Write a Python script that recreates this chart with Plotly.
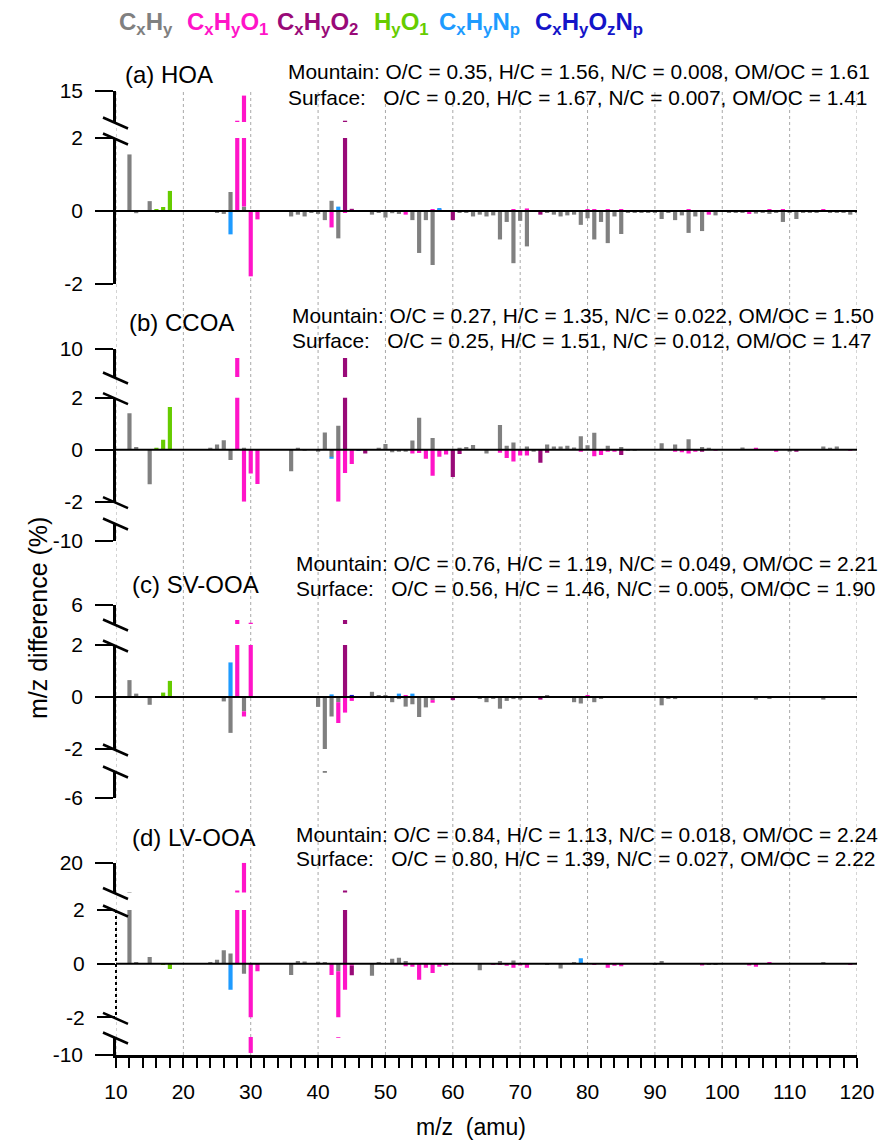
import plotly.graph_objects as go

W, H = 880, 1140
FONT = "Liberation Sans, Arial, Helvetica, sans-serif"

# ---------------- data: m/z difference (Mountain - Surface), % ----------------
# each list holds (m/z, difference) pairs for one ion family

HOA_CxHy = [(12, 1.55), (13, -0.06), (14, 0.02), (15, 0.27), (24, -0.02), (25, -0.04),
            (26, -0.08), (27, 0.52), (29, 0.12), (36, -0.15), (37, -0.10), (38, -0.15),
            (39, -0.05), (40, -0.08), (41, -0.25), (42, 0.28), (43, -0.75), (48, -0.10),
            (49, -0.05), (50, -0.18), (51, -0.06), (52, -0.08), (54, -0.25), (55, -1.15),
            (56, -0.25), (57, -1.48), (61, -0.05), (62, -0.05), (63, -0.15), (64, -0.10),
            (65, -0.15), (66, -0.12), (67, -0.78), (68, -0.30), (69, -1.43), (70, -0.27),
            (71, -0.97), (74, -0.05), (75, -0.10), (76, -0.15), (77, -0.12), (78, -0.10),
            (79, -0.38), (80, -0.20), (81, -0.78), (82, -0.30), (83, -0.88), (84, -0.15),
            (85, -0.63), (86, -0.03), (87, -0.03), (88, -0.03), (89, -0.03), (90, -0.04),
            (91, -0.22), (92, -0.05), (93, -0.25), (94, -0.12), (95, -0.60), (96, -0.15),
            (97, -0.55), (99, -0.12), (101, -0.03), (102, -0.03), (103, -0.05), (105, -0.07),
            (106, -0.03), (107, -0.08), (108, -0.03), (109, -0.30), (110, -0.04), (111, -0.22),
            (112, -0.03), (113, -0.03), (114, -0.03), (116, -0.03), (117, -0.04), (118, -0.03),
            (119, -0.10), (120, -0.03)]
HOA_CxHyO1 = [(28, 3.5), (29, 13.1), (30, -1.79), (31, -0.23), (42, -0.45), (44, -0.05),
              (53, -0.10), (57, 0.05), (58, 0.05), (69, 0.05), (71, 0.07), (80, 0.04),
              (81, 0.05), (83, 0.05), (85, 0.03), (95, 0.05), (98, -0.10), (104, -0.08),
              (107, 0.03), (109, 0.04), (115, 0.03)]
HOA_CxHyO2 = [(44, 3.5), (45, 0.06), (60, -0.25), (73, -0.10)]
HOA_HyO1 = [(16, 0.03), (17, 0.11), (18, 0.55)]
HOA_CxHyNp = [(27, -0.64), (43, 0.12), (58, 0.02)]
HOA_CxHyOzNp = [(72, -0.02)]

CCOA_CxHy = [(12, 1.40), (13, 0.10), (15, -1.33), (24, 0.05), (25, 0.20), (26, 0.36),
             (27, -0.40), (29, 0.05), (36, -0.83), (37, 0.05), (38, -0.03), (40, -0.06),
             (41, 0.66), (42, -0.28), (43, 0.92), (49, 0.05), (50, 0.22), (51, -0.10),
             (52, -0.06), (53, -0.08), (54, 0.35), (55, 1.23), (57, 0.45), (61, 0.05),
             (62, 0.10), (63, 0.18), (65, -0.15), (67, 0.95), (68, 0.15), (69, 0.28),
             (71, 0.12), (72, -0.06), (74, 0.20), (75, 0.12), (76, 0.12), (77, 0.15),
             (78, 0.08), (79, 0.52), (80, 0.17), (81, 0.65), (83, 0.15), (85, 0.10),
             (86, -0.03), (87, -0.03), (91, 0.25), (93, 0.20), (95, 0.40), (97, 0.10),
             (98, 0.05), (103, 0.08), (110, -0.05), (115, 0.12), (116, 0.07), (117, 0.12)]
CCOA_CxHyO1 = [(28, 7.75), (29, -2.0), (30, -0.92), (31, -1.32), (43, -2.0), (44, -0.90),
               (45, -0.55), (54, -0.15), (55, -0.13), (56, -0.35), (57, -1.0), (58, -0.27),
               (59, -0.18), (67, -0.12), (68, -0.32), (69, -0.45), (70, -0.22), (71, -0.22),
               (79, -0.05), (81, -0.25), (82, -0.20), (83, -0.08), (84, -0.05), (93, -0.05),
               (94, -0.10), (95, -0.15), (96, -0.05), (99, -0.03), (105, 0.05), (108, -0.05),
               (119, -0.03)]
CCOA_CxHyO2 = [(44, 7.75), (47, -0.15), (60, -1.05), (61, -0.17), (73, -0.50), (74, -0.12),
               (85, -0.20), (97, -0.07), (111, -0.05)]
CCOA_HyO1 = [(16, 0.05), (17, 0.38), (18, 1.64)]
CCOA_CxHyNp = [(42, -0.04)]
CCOA_CxHyOzNp = [(46, -0.02)]

SVOOA_CxHy = [(12, 0.65), (13, 0.13), (15, -0.30), (16, 0.02), (25, -0.03), (26, -0.17),
              (27, -1.38), (29, -0.55), (40, -0.38), (41, -3.2), (42, -0.75), (43, -0.20),
              (48, 0.20), (49, 0.05), (50, 0.05), (51, -0.20), (52, -0.08), (53, -0.37),
              (54, -0.28), (55, -0.77), (56, -0.40), (57, -0.12), (63, -0.03), (64, -0.05),
              (65, -0.20), (66, -0.05), (67, -0.45), (68, -0.15), (69, -0.08), (70, -0.10),
              (74, 0.05), (78, -0.20), (79, -0.25), (81, -0.20), (82, -0.05), (91, -0.32),
              (92, -0.05), (93, -0.08), (105, -0.10), (107, -0.05), (115, -0.10)]
SVOOA_CxHyO1 = [(28, 3.63), (29, -0.20), (30, 3.2), (43, -0.80), (44, -0.60), (45, -0.15),
                (53, 0.05), (57, -0.10), (58, 0.03), (71, 0.02), (77, 0.03), (80, 0.05),
                (83, -0.03), (104, 0.02)]
SVOOA_CxHyO2 = [(44, 3.63), (60, -0.12), (73, -0.10)]
SVOOA_HyO1 = [(17, 0.17), (18, 0.62)]
SVOOA_CxHyNp = [(27, 1.33), (42, 0.10), (43, 0.03), (52, 0.13), (54, 0.13), (79, 0.02)]
SVOOA_CxHyOzNp = [(45, 0.08)]

LVOOA_CxHy = [(12, 3.3), (13, 0.05), (15, 0.25), (24, 0.03), (25, 0.15), (26, 0.50),
              (27, 0.38), (29, -0.38), (36, -0.42), (37, 0.10), (38, 0.08), (40, 0.07),
              (41, 0.03), (43, -0.28), (48, -0.45), (49, 0.05), (51, 0.18), (52, 0.22),
              (53, 0.10), (64, -0.25), (67, 0.10), (69, 0.12), (74, -0.03), (76, -0.18),
              (78, 0.05), (90, -0.05), (91, 0.10), (98, -0.05), (99, -0.05), (115, 0.05)]
LVOOA_CxHyO1 = [(28, 4.1), (29, 20.0), (30, -9.2), (31, -0.28), (42, -0.42), (43, -3.02),
                (44, -0.97), (45, -0.08), (53, -0.10), (54, -0.12), (55, -0.60), (56, -0.15),
                (57, -0.35), (58, -0.12), (59, -0.08), (66, -0.05), (67, -0.05), (68, -0.08),
                (69, -0.15), (70, -0.07), (71, -0.15), (81, -0.05), (83, -0.15), (84, -0.08),
                (85, -0.10), (97, -0.07), (104, -0.07), (105, -0.12), (107, 0.04), (119, -0.03)]
LVOOA_CxHyO2 = [(44, 4.1), (45, -0.35)]
LVOOA_HyO1 = [(17, -0.03), (18, -0.20)]
LVOOA_CxHyNp = [(27, -0.97), (79, 0.20)]
LVOOA_CxHyOzNp = [(46, 0.01)]

FAMILIES = ["CxHy", "CxHyO1", "CxHyO2", "HyO1", "CxHyNp", "CxHyOzNp"]
COLORS = {"CxHy": "#808080", "CxHyO1": "#FF14C8", "CxHyO2": "#990A78",
          "HyO1": "#66CC00", "CxHyNp": "#1E9BFF", "CxHyOzNp": "#1414C8"}
LEGEND_LABELS = {"CxHy": "C<sub>x</sub>H<sub>y</sub>",
                 "CxHyO1": "C<sub>x</sub>H<sub>y</sub>O<sub>1</sub>",
                 "CxHyO2": "C<sub>x</sub>H<sub>y</sub>O<sub>2</sub>",
                 "HyO1": "H<sub>y</sub>O<sub>1</sub>",
                 "CxHyNp": "C<sub>x</sub>H<sub>y</sub>N<sub>p</sub>",
                 "CxHyOzNp": "C<sub>x</sub>H<sub>y</sub>O<sub>z</sub>N<sub>p</sub>"}
LEGEND_X = [117, 185, 275, 372, 437, 533]

MZ_TICKS = list(range(10, 121, 10))

# ---------------- panel layout (pixel positions) ----------------
NB = "\u00a0"
PANELS = [
    dict(label="(a) HOA", label_pos=(123, 75),
         info=["Mountain: O/C = 0.35, H/C = 1.56, N/C = 0.008, OM/OC = 1.61",
               "Surface:" + NB * 3 + "O/C = 0.20, H/C = 1.67, N/C = 0.007, OM/OC = 1.41"],
         info_pos=(286, 72, 97),
         data=dict(CxHy=HOA_CxHy, CxHyO1=HOA_CxHyO1, CxHyO2=HOA_CxHyO2, HyO1=HOA_HyO1,
                   CxHyNp=HOA_CxHyNp, CxHyOzNp=HOA_CxHyOzNp),
         segments=[((3, 15), 91, 122, [15], ["15"]),
                   ((-2, 2), 138, 284, [-2, 0, 2], ["-2", "0", "2"])],
         dotted_main=False),
    dict(label="(b) CCOA", label_pos=(127, 322),
         info=["Mountain: O/C = 0.27, H/C = 1.35, N/C = 0.022, OM/OC = 1.50",
               "Surface:" + NB * 3 + "O/C = 0.25, H/C = 1.51, N/C = 0.012, OM/OC = 1.47"],
         info_pos=(290, 315, 340),
         data=dict(CxHy=CCOA_CxHy, CxHyO1=CCOA_CxHyO1, CxHyO2=CCOA_CxHyO2, HyO1=CCOA_HyO1,
                   CxHyNp=CCOA_CxHyNp, CxHyOzNp=CCOA_CxHyOzNp),
         segments=[((3, 10), 349, 377, [10], ["10"]),
                   ((-2, 2), 397.7, 501.7, [-2, 0, 2], ["-2", "0", "2"]),
                   ((-10, -3), 523, 540.7, [-10], ["-10"])],
         dotted_main=False),
    dict(label="(c) SV-OOA", label_pos=(130, 584),
         info=["Mountain: O/C = 0.76, H/C = 1.19, N/C = 0.049, OM/OC = 2.21",
               "Surface:" + NB * 3 + "O/C = 0.56, H/C = 1.46, N/C = 0.005, OM/OC = 1.90"],
         info_pos=(294, 563, 588),
         data=dict(CxHy=SVOOA_CxHy, CxHyO1=SVOOA_CxHyO1, CxHyO2=SVOOA_CxHyO2, HyO1=SVOOA_HyO1,
                   CxHyNp=SVOOA_CxHyNp, CxHyOzNp=SVOOA_CxHyOzNp),
         segments=[((3, 6), 605, 624, [6], ["6"]),
                   ((-2, 2), 645, 749, [-2, 0, 2], ["-2", "0", "2"]),
                   ((-6, -3), 771, 798, [-6], ["-6"])],
         dotted_main=False),
    dict(label="(d) LV-OOA", label_pos=(130, 837),
         info=["Mountain: O/C = 0.84, H/C = 1.13, N/C = 0.018, OM/OC = 2.24",
               "Surface:" + NB * 3 + "O/C = 0.80, H/C = 1.39, N/C = 0.027, OM/OC = 2.22"],
         info_pos=(294, 834, 858),
         data=dict(CxHy=LVOOA_CxHy, CxHyO1=LVOOA_CxHyO1, CxHyO2=LVOOA_CxHyO2, HyO1=LVOOA_HyO1,
                   CxHyNp=LVOOA_CxHyNp, CxHyOzNp=LVOOA_CxHyOzNp),
         segments=[((3, 20), 862.7, 892.5, [20], ["20"]),
                   ((-2, 2), 910, 1017.3, [-2, 0, 2], ["-2", "0", "2"]),
                   ((-10, -3), 1037, 1055, [-10], ["-10"])],
         dotted_main=True),
]

X_LEFT, X_RIGHT = 116, 857
AXIS_X = X_LEFT
BAR_W = 0.62


def py(v):
    """pixel row -> paper y"""
    return 1 - v / H


def px(v):
    """pixel column -> paper x"""
    return v / W


fig = go.Figure()
layout_axes = {}
shapes = []
annotations = []

yi = 0
for p in PANELS:
    for si, (rng, top, bot, tv, tt) in enumerate(p["segments"]):
        yi += 1
        yname = "y" if yi == 1 else f"y{yi}"
        lname = "yaxis" if yi == 1 else f"yaxis{yi}"
        is_main = rng == (-2, 2)
        for fam in FAMILIES:
            pts = p["data"][fam]
            fig.add_trace(go.Bar(
                x=[m for m, _ in pts], y=[v for _, v in pts], width=BAR_W,
                marker=dict(color=COLORS[fam], line=dict(width=0)),
                xaxis="x", yaxis=yname, showlegend=False, hoverinfo="skip"))
        draw_line = not (is_main and p["dotted_main"])
        layout_axes[lname] = dict(
            domain=[py(bot), py(top)], range=list(rng), anchor="x", automargin=False,
            showline=draw_line, linecolor="black", linewidth=2.5,
            ticks="outside", ticklen=18, tickwidth=2, tickcolor="black",
            tickvals=tv, ticktext=tt, ticklabelstandoff=8,
            tickfont=dict(family=FONT, size=21, color="black"),
            showgrid=False, zeroline=False, fixedrange=True)
        if is_main:
            # zero line kept on top of the bars
            shapes.append(dict(type="line", xref="x", yref=yname, x0=10, x1=120, y0=0, y1=0,
                               line=dict(color="black", width=2)))
        if not draw_line:
            shapes.append(dict(type="line", xref="paper", yref="paper",
                               x0=px(AXIS_X), x1=px(AXIS_X), y0=py(top), y1=py(bot),
                               line=dict(color="black", width=2, dash="dot")))
    # axis break marks at the ends of neighbouring segments
    segs = p["segments"]
    for a, b in zip(segs[:-1], segs[1:]):
        for yc in (a[2] + 1, b[1] + 1):
            shapes.append(dict(type="line", xref="paper", yref="paper",
                               x0=px(103), x1=px(128), y0=py(yc - 5.5), y1=py(yc + 5.5),
                               line=dict(color="black", width=2.5)))
    # panel title and elemental ratios
    lx, ly = p["label_pos"]
    annotations.append(dict(text=p["label"], x=px(lx), y=py(ly), xref="paper", yref="paper",
                            xanchor="left", yanchor="middle", showarrow=False,
                            font=dict(family=FONT, size=24, color="black")))
    ix, iy1, iy2 = p["info_pos"]
    for txt, yy in zip(p["info"], (iy1, iy2)):
        annotations.append(dict(text=txt, x=px(ix), y=py(yy), xref="paper", yref="paper",
                                xanchor="left", yanchor="middle", showarrow=False,
                                font=dict(family=FONT, size=20.9, color="black")))

last_y = "y" if yi == 1 else f"y{yi}"

# vertical dotted grid through all panels
for v in MZ_TICKS:
    shapes.append(dict(type="line", xref="x", yref="paper", x0=v, x1=v,
                       y0=py(1055), y1=py(91), layer="below",
                       line=dict(color="#A8A8A8", width=1, dash="dot")))

# family legend
for fam, lx in zip(FAMILIES, LEGEND_X):
    annotations.append(dict(text="<b>" + LEGEND_LABELS[fam] + "</b>", x=px(lx), y=py(24),
                            xref="paper", yref="paper", xanchor="left", yanchor="middle",
                            showarrow=False,
                            font=dict(family=FONT, size=24, color=COLORS[fam])))

# axis titles
annotations.append(dict(text="m/z difference (%)", x=px(38), y=py(618), xref="paper",
                        yref="paper", textangle=-90, showarrow=False,
                        xanchor="center", yanchor="middle",
                        font=dict(family=FONT, size=25, color="black")))
annotations.append(dict(text="m/z" + NB * 2 + "(amu)", x=px(471), y=py(1127), xref="paper",
                        yref="paper", showarrow=False, xanchor="center", yanchor="middle",
                        font=dict(family=FONT, size=23, color="black")))

fig.update_layout(
    width=W, height=H, margin=dict(l=0, r=0, t=0, b=0, autoexpand=False),
    paper_bgcolor="white", plot_bgcolor="rgba(0,0,0,0)",
    barmode="relative", showlegend=False,
    xaxis=dict(domain=[px(X_LEFT), px(X_RIGHT)], range=[10, 120], anchor=last_y,
               automargin=False,
               showline=True, linecolor="black", linewidth=2.5,
               ticks="outside", ticklen=10, tickwidth=1.5, tickcolor="black",
               tickvals=MZ_TICKS, ticktext=[str(v) for v in MZ_TICKS], ticklabelstandoff=6,
               tickfont=dict(family=FONT, size=21, color="black"),
               minor=dict(dtick=2, tick0=10, ticks="outside", ticklen=10, tickwidth=1.5,
                          tickcolor="black", showgrid=False),
               showgrid=False, zeroline=False, fixedrange=True),
    shapes=shapes, annotations=annotations,
    **layout_axes,
)

fig.write_html("out.html")
